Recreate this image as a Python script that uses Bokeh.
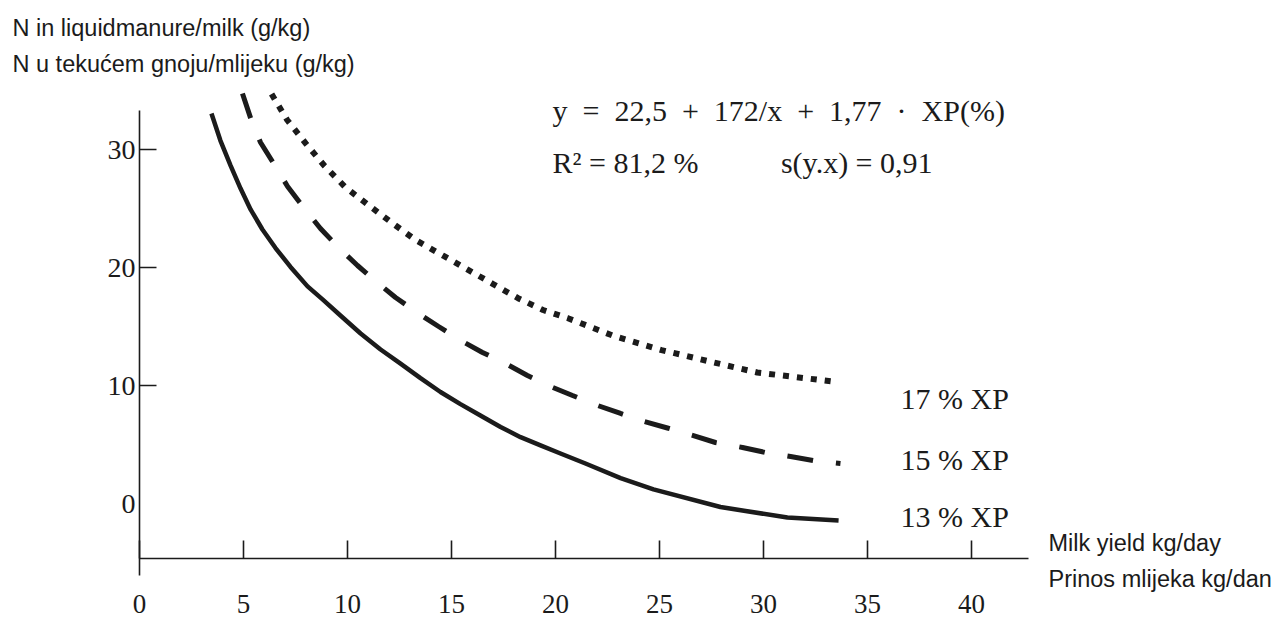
from bokeh.plotting import figure
from bokeh.models import Range1d, FixedTicker, Label
from bokeh.embed import file_html
from bokeh.resources import INLINE

# ---- data ----
series_names = ["13 % XP", "15 % XP", "17 % XP"]

xp13_x = [3.46, 3.89, 4.38, 4.86, 5.34, 5.91, 6.54, 7.26, 8.08, 8.80, 9.66, 10.63, 11.59, 12.55,
          13.51, 14.47, 15.43, 16.39, 17.36, 18.32, 19.28, 20.24, 21.44, 23.13, 24.71, 27.93, 31.15, 33.61]
xp13_y = [33.05, 30.76, 28.64, 26.69, 24.92, 23.22, 21.65, 20.05, 18.40, 17.30, 15.93, 14.41, 13.05, 11.86,
          10.62, 9.45, 8.42, 7.46, 6.48, 5.62, 4.92, 4.24, 3.39, 2.15, 1.20, -0.30, -1.19, -1.44]

xp15_x = [4.95, 5.38, 5.82, 6.54, 7.12, 7.93, 8.70, 9.52, 10.48, 11.49, 12.31, 13.41, 14.38, 15.53, 16.49,
          17.60, 18.65, 19.76, 20.82, 22.02, 23.13, 24.23, 25.38, 26.63, 27.69, 28.99, 30.10, 31.30, 32.40, 33.70]
xp15_y = [34.75, 32.46, 30.59, 28.56, 26.86, 25.00, 23.31, 21.78, 20.17, 18.64, 17.46, 16.10, 15.00, 13.73, 12.80,
          11.86, 10.85, 9.92, 9.15, 8.31, 7.63, 6.96, 6.40, 5.76, 5.17, 4.75, 4.32, 3.98, 3.64, 3.39]

xp17_x = [6.35, 7.1, 8.0, 8.9, 9.9, 11.0, 12.2, 13.3, 14.6, 15.8, 17.0, 18.2, 19.4, 20.6, 22.8, 25.1, 27.5, 29.7, 32.1, 33.5]
xp17_y = [34.7, 32.5, 30.5, 28.6, 26.8, 25.3, 23.7, 22.3, 21.0, 19.8, 18.6, 17.4, 16.4, 15.7, 14.2, 13.0, 12.0, 11.1, 10.6, 10.3]

x_ticks = [0, 5, 10, 15, 20, 25, 30, 35, 40]
y_ticks = [0, 10, 20, 30]
y_marked_ticks = [10, 20, 30]

y_title = ["N in liquidmanure/milk (g/kg)", "N u tekućem gnoju/mlijeku (g/kg)"]
x_title = ["Milk yield kg/day", "Prinos mlijeka kg/dan"]
formula = ["y\u2002=\u200222,5\u2002+\u2002172/x\u2002+\u20021,77\u2002·\u2002XP(%)",
           "R² = 81,2 %\u2002\u2002\u2002\u2002\u2002 s(y.x) = 0,91"]

# ---- layout (pixel geometry of the page) ----
W, H = 1279, 621
X0_PX = 139          # where x = 0 lies
X_PER = 20.8         # pixels per kg/day
Y0_PX = 503          # where y = 0 lies
Y_PER = 11.8         # pixels per g/kg


def px2x(px):
    return (px - X0_PX) / X_PER


def px2y(py):
    return (Y0_PX - py) / Y_PER


INK = "#1b1b1b"
SERIF = "Liberation Serif"
SANS = "Liberation Sans"

p = figure(width=W, height=H, title=None,
           x_range=Range1d(px2x(0), px2x(W)), y_range=Range1d(px2y(H), px2y(0)),
           output_backend="svg", toolbar_location=None,
           min_border=0, min_border_left=0, min_border_right=0,
           min_border_top=0, min_border_bottom=0)
p.outline_line_color = None
p.grid.visible = False
p.background_fill_color = "white"
p.border_fill_color = "white"

# x axis, crossing the y axis a little below zero
xa = p.xaxis[0]
xa.fixed_location = px2y(558)
xa.bounds = (0, px2x(1028))
xa.ticker = FixedTicker(ticks=x_ticks)
xa.major_tick_in = 18
xa.major_tick_out = 0
xa.minor_tick_in = 0
xa.minor_tick_out = 0
xa.major_tick_line_width = 1.6
xa.major_tick_line_color = INK
xa.axis_line_color = INK
xa.axis_line_width = 1.6
xa.major_label_standoff = 36
xa.major_label_text_font = SERIF
xa.major_label_text_font_size = "27px"
xa.major_label_text_color = INK

# y axis at x = 0
ya = p.yaxis[0]
ya.fixed_location = 0
ya.bounds = (px2y(575), px2y(110))
ya.ticker = FixedTicker(ticks=y_ticks, minor_ticks=y_marked_ticks)
ya.major_tick_in = 0
ya.major_tick_out = 0
ya.minor_tick_in = 17
ya.minor_tick_out = 0
ya.minor_tick_line_width = 1.6
ya.minor_tick_line_color = INK
ya.axis_line_color = INK
ya.axis_line_width = 1.6
ya.major_label_standoff = 4
ya.major_label_text_font = SERIF
ya.major_label_text_font_size = "28px"
ya.major_label_text_color = INK

# curves
p.line(xp13_x, xp13_y, line_width=4.5, line_color=INK, line_join="round")
p.line(xp15_x, xp15_y, line_width=5, line_color=INK, line_dash="26 23", line_cap="butt")
p.line(xp17_x, xp17_y, line_width=6, line_color=INK, line_dash="6 8", line_cap="butt")


def add_text(text, px, py, font, size):
    p.add_layout(Label(x=px2x(px), y=px2y(py), text=text, text_font=font,
                       text_font_size=size, text_color=INK,
                       text_align="left", text_baseline="middle"))


add_text(y_title[0], 12, 27, SANS, "23.5px")
add_text(y_title[1], 12, 63, SANS, "23.5px")
add_text(formula[0], 552, 110, SERIF, "30px")
add_text(formula[1], 552, 162, SERIF, "30px")
add_text(series_names[2], 900, 398, SERIF, "30px")
add_text(series_names[1], 900, 459, SERIF, "30px")
add_text(series_names[0], 900, 516, SERIF, "30px")
add_text(x_title[0], 1048, 542, SANS, "23.5px")
add_text(x_title[1], 1048, 578, SANS, "23.5px")

open("out.html", "w").write(file_html(p, INLINE))
